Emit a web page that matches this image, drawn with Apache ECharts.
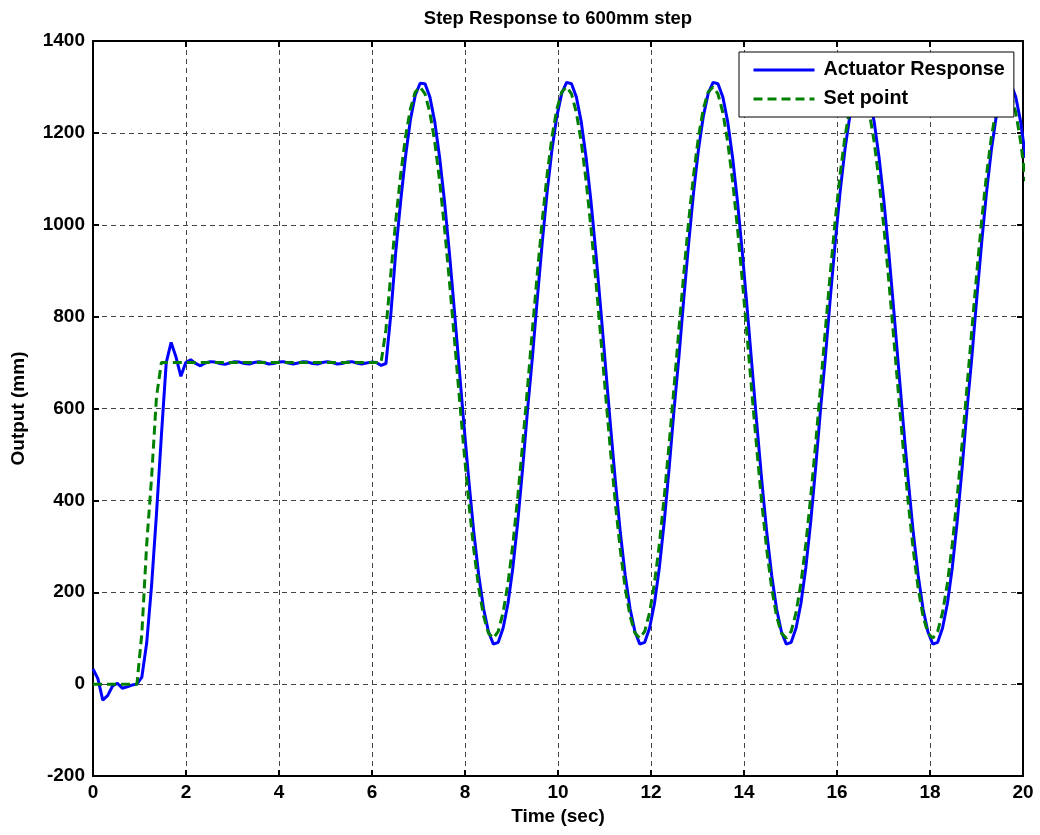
<!DOCTYPE html>
<html>
<head>
<meta charset="utf-8">
<title>Step Response to 600mm step</title>
<script src="https://cdn.jsdelivr.net/npm/echarts@6/dist/echarts.min.js"></script>
<style>
  html, body { margin: 0; padding: 0; background: #ffffff; }
  #chart { width: 1040px; height: 835px; }
</style>
</head>
<body>
<div id="chart"></div>
<script>
// Logged signals, sampled every SAMPLE_PERIOD_S seconds starting at t = 0.
const SAMPLE_PERIOD_S = 0.105;

// Commanded position (mm)
const setPointMm = [
  0, 0, 0, 0, 0, 0, 0, 0, 0, 0,
  110, 305, 450, 625, 700, 700, 700, 700, 700, 700,
  700, 700, 700, 700, 700, 700, 700, 700, 700, 700,
  700, 700, 700, 700, 700, 700, 700, 700, 700, 700,
  700, 700, 700, 700, 700, 700, 700, 700, 700, 700,
  700, 700, 700, 700, 700, 700, 700, 700, 700, 700,
  // oscillating command
  772, 894, 1008, 1108, 1191, 1252, 1289, 1300, 1285, 1244, 1180, 1095, 992, 877, 754,
  628, 506, 392, 292, 209, 148, 111, 100, 115, 156, 220, 305, 408, 523, 646,
  772, 894, 1008, 1108, 1191, 1252, 1289, 1300, 1285, 1244, 1180, 1095, 992, 877, 754,
  628, 506, 392, 292, 209, 148, 111, 100, 115, 156, 220, 305, 408, 523, 646,
  772, 894, 1008, 1108, 1191, 1252, 1289, 1300, 1285, 1244, 1180, 1095, 992, 877, 754,
  628, 506, 392, 292, 209, 148, 111, 100, 115, 156, 220, 305, 408, 523, 646,
  772, 894, 1008, 1108, 1191, 1252, 1289, 1300, 1285, 1244, 1180, 1095, 992, 877, 754,
  628, 506, 392, 292, 209, 148, 111, 100, 115, 156, 220, 305, 408, 523, 646,
  772, 894, 1008, 1108, 1191, 1252, 1289, 1300, 1285, 1244, 1180, 1095
];

// Measured actuator position (mm)
const actuatorMm = [
  33, 12, -35, -25, -4, 2, -9, -6, -2, 0,
  15, 90, 215, 370, 540, 700, 744, 712, 670, 700,
  706, 698, 693, 699, 702, 701, 698, 696, 699, 702,
  701, 698, 697, 700, 702, 700, 697, 698, 701, 702,
  699, 697, 699, 702, 701, 698, 697, 700, 702, 700,
  697, 698, 701, 702, 699, 697, 699, 701, 700, 694,
  // tracking the oscillating command
  698, 805, 940, 1050, 1148, 1228, 1282, 1308, 1307, 1278, 1224, 1146, 1050, 938, 815,
  688, 561, 440, 330, 237, 164, 114, 87, 91, 122, 176, 254, 354, 470, 597,
  712, 839, 960, 1070, 1163, 1236, 1286, 1310, 1307, 1278, 1224, 1146, 1050, 938, 815,
  688, 561, 440, 330, 237, 164, 114, 87, 91, 122, 176, 254, 354, 470, 597,
  712, 839, 960, 1070, 1163, 1236, 1286, 1310, 1307, 1278, 1224, 1146, 1050, 938, 815,
  688, 561, 440, 330, 237, 164, 114, 87, 91, 122, 176, 254, 354, 470, 597,
  712, 839, 960, 1070, 1163, 1236, 1286, 1310, 1307, 1278, 1224, 1146, 1050, 938, 815,
  688, 561, 440, 330, 237, 164, 114, 87, 91, 122, 176, 254, 354, 470, 597,
  712, 839, 960, 1070, 1163, 1236, 1286, 1310, 1307, 1278, 1224, 1146
];

const seriesNames = ['Actuator Response', 'Set point'];
const xTicks = { min: 0, max: 20, step: 2 };
const yTicks = { min: -200, max: 1400, step: 200 };

const toPairs = (values) => values.map((v, i) => [+(i * SAMPLE_PERIOD_S).toFixed(3), v]);

const FONT = '"Liberation Sans", Arial, Helvetica, sans-serif';
const labelStyle = { color: '#000', fontFamily: FONT, fontWeight: 'bold', fontSize: 19 };
const plainNumber = (v) => String(v);

const boxLine = { show: true, onZero: false, lineStyle: { color: '#000', width: 2 } };
const boxTick = { show: true, inside: true, length: 6, lineStyle: { color: '#000', width: 2 } };
const gridDash = { show: true, lineStyle: { color: '#444', width: 1, type: [5, 4] } };

const chart = echarts.init(document.getElementById('chart'), null, { renderer: 'canvas' });

chart.setOption({
  animation: false,
  backgroundColor: '#ffffff',
  title: {
    text: 'Step Response to 600mm step',
    left: 558,
    top: 9,
    padding: 0,
    textAlign: 'center',
    textStyle: { color: '#000', fontFamily: FONT, fontWeight: 'bold', fontSize: 18.5 }
  },
  grid: { left: 93, right: 17, top: 41, bottom: 59, containLabel: false },
  legend: {
    orient: 'vertical',
    left: 739,
    top: 52,
    padding: [8, 9, 8, 13],
    itemGap: 9,
    itemWidth: 61,
    itemHeight: 14,
    backgroundColor: '#ffffff',
    borderColor: '#000',
    borderWidth: 1,
    borderRadius: 0,
    itemStyle: { opacity: 0 },
    lineStyle: { width: 3 },
    textStyle: { color: '#000', fontFamily: FONT, fontWeight: 'bold', fontSize: 19.8, lineHeight: 20, padding: [0, 0, 0, 4] },
    data: seriesNames
  },
  xAxis: [
    {
      type: 'value', min: xTicks.min, max: xTicks.max, interval: xTicks.step, position: 'bottom',
      axisLine: boxLine, axisTick: boxTick, splitLine: gridDash,
      axisLabel: Object.assign({ margin: 7, formatter: plainNumber }, labelStyle),
      name: 'Time (sec)', nameLocation: 'middle', nameGap: 21,
      nameTextStyle: labelStyle
    },
    {
      type: 'value', min: xTicks.min, max: xTicks.max, interval: xTicks.step, position: 'top',
      axisLine: boxLine, axisTick: boxTick, splitLine: { show: false }, axisLabel: { show: false }
    }
  ],
  yAxis: [
    {
      type: 'value', min: yTicks.min, max: yTicks.max, interval: yTicks.step, position: 'left',
      axisLine: boxLine, axisTick: boxTick, splitLine: gridDash,
      axisLabel: Object.assign({ margin: 8, formatter: plainNumber }, labelStyle),
      name: 'Output (mm)', nameLocation: 'middle', nameGap: 65,
      nameTextStyle: labelStyle
    },
    {
      type: 'value', min: yTicks.min, max: yTicks.max, interval: yTicks.step, position: 'right',
      axisLine: boxLine, axisTick: boxTick, splitLine: { show: false }, axisLabel: { show: false }
    }
  ],
  series: [
    {
      name: seriesNames[0],
      type: 'line',
      data: toPairs(actuatorMm),
      showSymbol: false,
      symbol: 'none',
      clip: true,
      color: '#0000ff',
      lineStyle: { color: '#0000ff', width: 3 },
      z: 2
    },
    {
      name: seriesNames[1],
      type: 'line',
      data: toPairs(setPointMm),
      showSymbol: false,
      symbol: 'none',
      clip: true,
      color: '#008000',
      lineStyle: { color: '#008000', width: 3, type: [9, 5] },
      z: 3
    }
  ]
});
</script>
</body>
</html>
